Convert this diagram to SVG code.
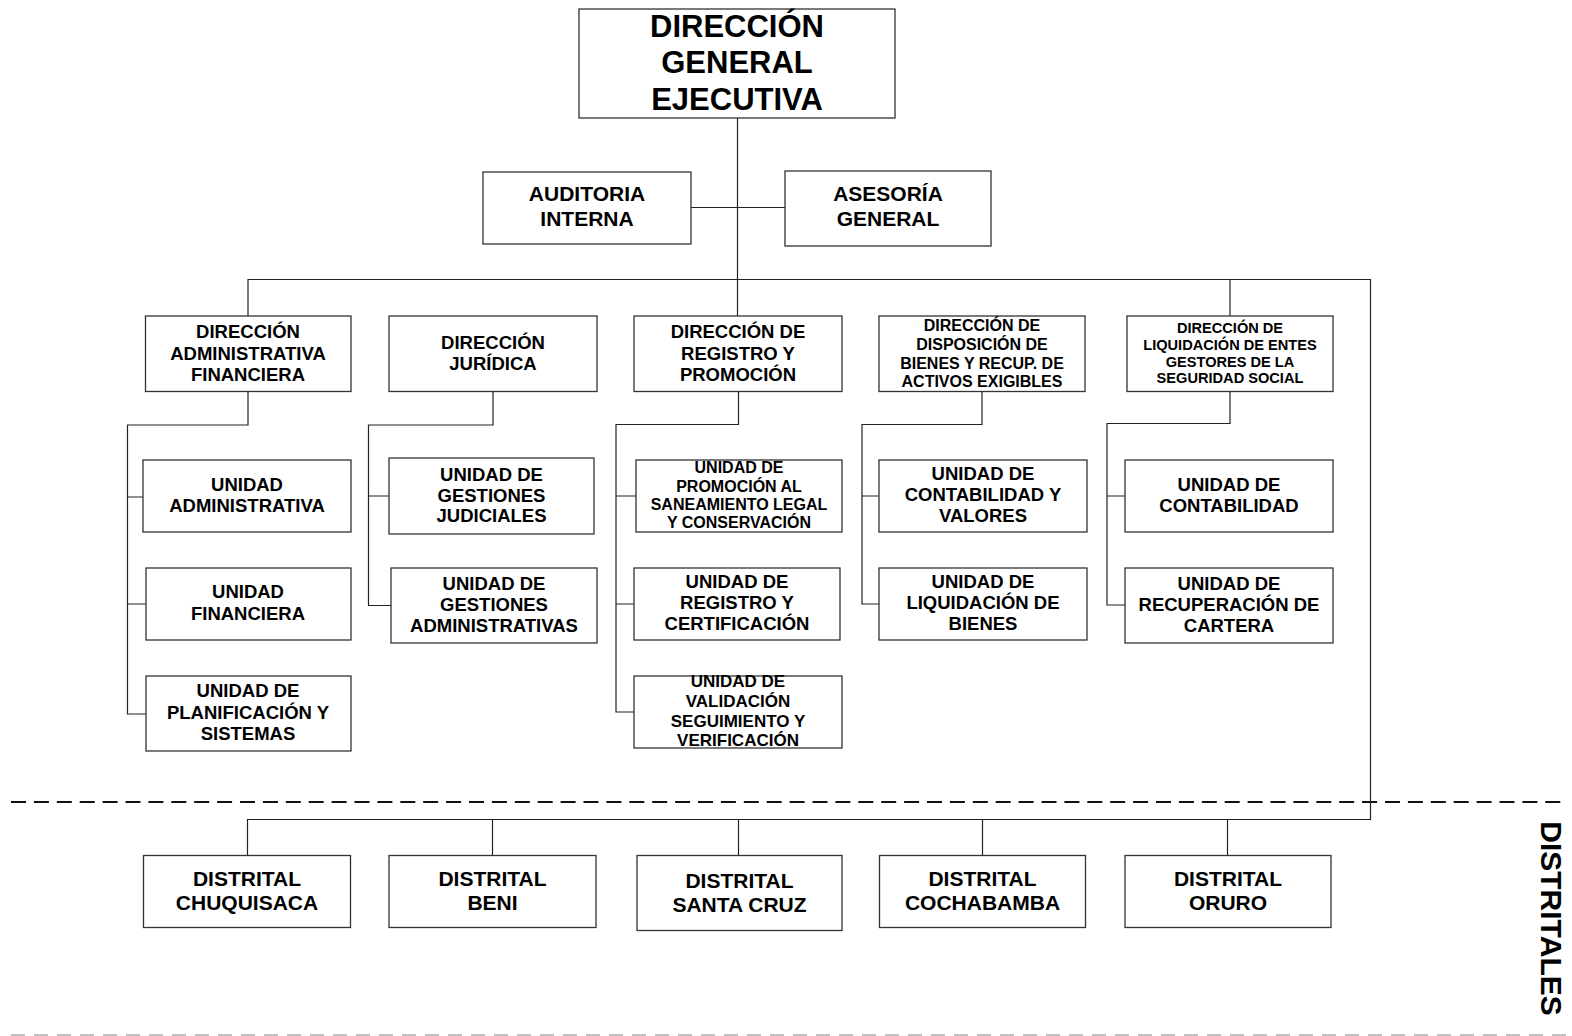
<svg xmlns="http://www.w3.org/2000/svg" width="1572" height="1036" viewBox="0 0 1572 1036">
  <style>
    .box { fill: #ffffff; stroke: #333333; stroke-width: 1.3; }
    .link { fill: none; stroke: #222222; stroke-width: 1.2; }
    text { font-family: "Liberation Sans", Arial, sans-serif; font-weight: bold; fill: #000000; text-anchor: middle; }
    .t31 { font-size: 31px; }
    .t21 { font-size: 21px; }
    .t18 { font-size: 18.5px; }
    .t17 { font-size: 17px; }
    .t16 { font-size: 16px; }
    .t14 { font-size: 14.6px; }
  </style>
  <rect x="0" y="0" width="1572" height="1036" fill="#ffffff"/>

  <!-- boundary lines -->
  <line x1="11" y1="802" x2="1568" y2="802" stroke="#111111" stroke-width="2" stroke-dasharray="15 7.9"/>
  <line x1="11" y1="1035" x2="1568" y2="1035" stroke="#c0c0c0" stroke-width="2" stroke-dasharray="14 9"/>

  <!-- connectors -->
  <g id="connectors" class="link">
    <path d="M737.5 118 V316"/>
    <path d="M691 207.5 H785"/>
    <path d="M248 316 V279.5 H1370.5 V819.5 H247.5 V855.5"/>
    <path d="M1230 279.5 V316"/>
    <path d="M492.5 819.5 V855.5 M738.5 819.5 V855.5 M982.5 819.5 V855.5 M1227.5 819.5 V855.5"/>
    <!-- administrativa financiera -->
    <path d="M248 391.5 V425 H127.5 V714 H146 M127.5 497 H143 M127.5 604 H146"/>
    <!-- juridica -->
    <path d="M493 391.5 V425 H368.5 V605.5 H391 M368.5 496 H389"/>
    <!-- registro y promocion -->
    <path d="M738.5 391.5 V424.5 H616 V712 H634 M616 496 H636 M616 604 H634"/>
    <!-- disposicion de bienes -->
    <path d="M982 391.5 V424.5 H862 V604 H879 M862 496 H879"/>
    <!-- liquidacion de entes -->
    <path d="M1230 391.5 V423.5 H1107 V605 H1125 M1107 496 H1125"/>
  </g>

  <!-- top level -->
  <g id="direccion-general">
    <rect class="box" x="579" y="9" width="316" height="109"/>
    <text class="t31"><tspan x="737" y="36.5">DIRECCIÓN</tspan><tspan x="737" y="73">GENERAL</tspan><tspan x="737" y="109.5">EJECUTIVA</tspan></text>
  </g>
  <g id="auditoria-interna">
    <rect class="box" x="483" y="172" width="208" height="72"/>
    <text class="t21"><tspan x="587" y="201">AUDITORIA</tspan><tspan x="587" y="226">INTERNA</tspan></text>
  </g>
  <g id="asesoria-general">
    <rect class="box" x="785" y="171" width="206" height="75"/>
    <text class="t21"><tspan x="888" y="201">ASESORÍA</tspan><tspan x="888" y="226">GENERAL</tspan></text>
  </g>

  <!-- direcciones -->
  <g id="dir-administrativa">
    <rect class="box" x="145.5" y="316" width="205.5" height="75.5"/>
    <text class="t18"><tspan x="248" y="338">DIRECCIÓN</tspan><tspan x="248" y="359.5">ADMINISTRATIVA</tspan><tspan x="248" y="381">FINANCIERA</tspan></text>
  </g>
  <g id="dir-juridica">
    <rect class="box" x="389" y="316" width="208" height="75.5"/>
    <text class="t18"><tspan x="493" y="349">DIRECCIÓN</tspan><tspan x="493" y="370">JURÍDICA</tspan></text>
  </g>
  <g id="dir-registro">
    <rect class="box" x="634" y="316" width="208" height="75.5"/>
    <text class="t18"><tspan x="738" y="338">DIRECCIÓN DE</tspan><tspan x="738" y="359.5">REGISTRO Y</tspan><tspan x="738" y="381">PROMOCIÓN</tspan></text>
  </g>
  <g id="dir-disposicion">
    <rect class="box" x="879" y="316" width="206" height="75.5"/>
    <text class="t16"><tspan x="982" y="331">DIRECCIÓN DE</tspan><tspan x="982" y="350">DISPOSICIÓN DE</tspan><tspan x="982" y="368.5">BIENES Y RECUP. DE</tspan><tspan x="982" y="387">ACTIVOS EXIGIBLES</tspan></text>
  </g>
  <g id="dir-liquidacion">
    <rect class="box" x="1127" y="316" width="206" height="75.5"/>
    <text class="t14"><tspan x="1230" y="333">DIRECCIÓN DE</tspan><tspan x="1230" y="350">LIQUIDACIÓN DE ENTES</tspan><tspan x="1230" y="366.5">GESTORES DE LA</tspan><tspan x="1230" y="383">SEGURIDAD SOCIAL</tspan></text>
  </g>

  <!-- unidades -->
  <g id="u-administrativa">
    <rect class="box" x="143" y="460" width="208" height="72"/>
    <text class="t18"><tspan x="247" y="491">UNIDAD</tspan><tspan x="247" y="512">ADMINISTRATIVA</tspan></text>
  </g>
  <g id="u-financiera">
    <rect class="box" x="146" y="568" width="205" height="72"/>
    <text class="t18"><tspan x="248" y="598">UNIDAD</tspan><tspan x="248" y="620">FINANCIERA</tspan></text>
  </g>
  <g id="u-planificacion">
    <rect class="box" x="146" y="676" width="205" height="75"/>
    <text class="t18"><tspan x="248" y="697">UNIDAD DE</tspan><tspan x="248" y="719">PLANIFICACIÓN Y</tspan><tspan x="248" y="740">SISTEMAS</tspan></text>
  </g>
  <g id="u-gestiones-judiciales">
    <rect class="box" x="389" y="458" width="205" height="76"/>
    <text class="t18"><tspan x="491.5" y="481">UNIDAD DE</tspan><tspan x="491.5" y="501.5">GESTIONES</tspan><tspan x="491.5" y="522">JUDICIALES</tspan></text>
  </g>
  <g id="u-gestiones-administrativas">
    <rect class="box" x="391" y="568" width="206" height="75"/>
    <text class="t18"><tspan x="494" y="590">UNIDAD DE</tspan><tspan x="494" y="611">GESTIONES</tspan><tspan x="494" y="632">ADMINISTRATIVAS</tspan></text>
  </g>
  <g id="u-promocion">
    <rect class="box" x="636" y="460" width="206" height="72"/>
    <text class="t16"><tspan x="739" y="473">UNIDAD DE</tspan><tspan x="739" y="491.5">PROMOCIÓN AL</tspan><tspan x="739" y="510">SANEAMIENTO LEGAL</tspan><tspan x="739" y="528">Y CONSERVACIÓN</tspan></text>
  </g>
  <g id="u-registro">
    <rect class="box" x="634" y="568" width="206" height="72"/>
    <text class="t18"><tspan x="737" y="588">UNIDAD DE</tspan><tspan x="737" y="609">REGISTRO Y</tspan><tspan x="737" y="630">CERTIFICACIÓN</tspan></text>
  </g>
  <g id="u-validacion">
    <rect class="box" x="634" y="676" width="208" height="72"/>
    <text class="t17"><tspan x="738" y="687">UNIDAD DE</tspan><tspan x="738" y="707">VALIDACIÓN</tspan><tspan x="738" y="727">SEGUIMIENTO Y</tspan><tspan x="738" y="746">VERIFICACIÓN</tspan></text>
  </g>
  <g id="u-contabilidad-valores">
    <rect class="box" x="879" y="460" width="208" height="72"/>
    <text class="t18"><tspan x="983" y="480">UNIDAD DE</tspan><tspan x="983" y="501">CONTABILIDAD Y</tspan><tspan x="983" y="522">VALORES</tspan></text>
  </g>
  <g id="u-liquidacion-bienes">
    <rect class="box" x="879" y="568" width="208" height="72"/>
    <text class="t18"><tspan x="983" y="588">UNIDAD DE</tspan><tspan x="983" y="609">LIQUIDACIÓN DE</tspan><tspan x="983" y="630">BIENES</tspan></text>
  </g>
  <g id="u-contabilidad">
    <rect class="box" x="1125" y="460" width="208" height="72"/>
    <text class="t18"><tspan x="1229" y="491">UNIDAD DE</tspan><tspan x="1229" y="512">CONTABILIDAD</tspan></text>
  </g>
  <g id="u-recuperacion">
    <rect class="box" x="1125" y="568" width="208" height="75"/>
    <text class="t18"><tspan x="1229" y="590">UNIDAD DE</tspan><tspan x="1229" y="611">RECUPERACIÓN DE</tspan><tspan x="1229" y="632">CARTERA</tspan></text>
  </g>

  <!-- distritales -->
  <g id="d-chuquisaca">
    <rect class="box" x="143.5" y="855.5" width="207" height="72"/>
    <text class="t21"><tspan x="247" y="885.5">DISTRITAL</tspan><tspan x="247" y="910">CHUQUISACA</tspan></text>
  </g>
  <g id="d-beni">
    <rect class="box" x="389" y="855.5" width="207" height="72"/>
    <text class="t21"><tspan x="492.5" y="885.5">DISTRITAL</tspan><tspan x="492.5" y="910">BENI</tspan></text>
  </g>
  <g id="d-santa-cruz">
    <rect class="box" x="637" y="855.5" width="205" height="75"/>
    <text class="t21"><tspan x="739.5" y="887.5">DISTRITAL</tspan><tspan x="739.5" y="912">SANTA CRUZ</tspan></text>
  </g>
  <g id="d-cochabamba">
    <rect class="box" x="879.5" y="855.5" width="206" height="72"/>
    <text class="t21"><tspan x="982.5" y="885.5">DISTRITAL</tspan><tspan x="982.5" y="910">COCHABAMBA</tspan></text>
  </g>
  <g id="d-oruro">
    <rect class="box" x="1125" y="855.5" width="206" height="72"/>
    <text class="t21"><tspan x="1228" y="885.5">DISTRITAL</tspan><tspan x="1228" y="910">ORURO</tspan></text>
  </g>

  <text transform="translate(1541 918.5) rotate(90)" x="0" y="0" style="font-size:30px">DISTRITALES</text>
</svg>
